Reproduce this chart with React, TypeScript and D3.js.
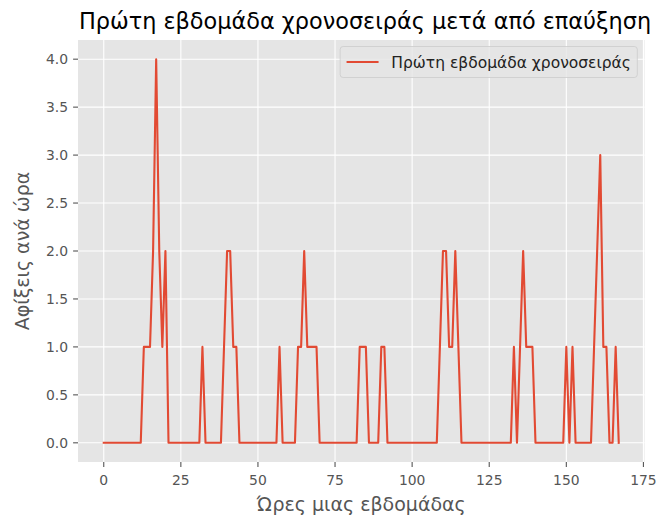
import React, { useEffect, useRef } from "react";
import * as d3 from "d3";

const hours: number[] = Array.from({ length: 168 }, (_, i) => i);
const arrivals: number[] = [
  // 0-11
  0, 0, 0, 0, 0, 0, 0, 0, 0, 0, 0, 0,
  // 12-21
  0, 1, 1, 1, 2, 4, 2, 1, 2, 0,
  // 22-31
  0, 0, 0, 0, 0, 0, 0, 0, 0, 0,
  // 32-43
  1, 0, 0, 0, 0, 0, 0, 1, 2, 2, 1, 1,
  // 44-56
  0, 0, 0, 0, 0, 0, 0, 0, 0, 0, 0, 0, 0,
  // 57-69
  1, 0, 0, 0, 0, 0, 1, 1, 2, 1, 1, 1, 1,
  // 70-82
  0, 0, 0, 0, 0, 0, 0, 0, 0, 0, 0, 0, 0,
  // 83-91
  1, 1, 1, 0, 0, 0, 0, 1, 1,
  // 92-108
  0, 0, 0, 0, 0, 0, 0, 0, 0, 0, 0, 0, 0, 0, 0, 0, 0,
  // 109-115
  1, 2, 2, 1, 1, 2, 1,
  // 116-132
  0, 0, 0, 0, 0, 0, 0, 0, 0, 0, 0, 0, 0, 0, 0, 0, 0,
  // 133-139
  1, 0, 1, 2, 1, 1, 1,
  // 140-149
  0, 0, 0, 0, 0, 0, 0, 0, 0, 0,
  // 150-158
  1, 0, 1, 0, 0, 0, 0, 0, 0,
  // 159-167
  1, 2, 3, 1, 1, 0, 0, 1, 0,
];
const xTicks: number[] = [0, 25, 50, 75, 100, 125, 150, 175];
const yTicks: number[] = [0, 0.5, 1, 1.5, 2, 2.5, 3, 3.5, 4];
const titleText = "Πρώτη εβδομάδα χρονοσειράς μετά από επαύξηση";
const xLabelText = "Ώρες μιας εβδομάδας";
const yLabelText = "Αφίξεις ανά ώρα";
const seriesName = "Πρώτη εβδομάδα χρονοσειράς";

export default function App() {
  const ref = useRef<SVGSVGElement | null>(null);

  useEffect(() => {
    const svg = d3.select(ref.current);
    svg.selectAll("*").remove();
    const font = "DejaVu Sans, sans-serif";
    const left = 78, right = 644.5, top = 40, bottom = 462;
    const x = d3.scaleLinear().domain([-8.35, 175.35]).range([left, right]);
    const y = d3.scaleLinear().domain([-0.2, 4.2]).range([bottom, top]);

    svg.append("rect").attr("x", left).attr("y", top)
      .attr("width", right - left).attr("height", bottom - top).attr("fill", "#E5E5E5");

    const g = svg.append("g");
    g.selectAll(".gx").data(xTicks).enter().append("line")
      .attr("x1", (d) => x(d)).attr("x2", (d) => x(d))
      .attr("y1", top).attr("y2", bottom)
      .attr("stroke", "#ffffff").attr("stroke-width", 1.1);
    g.selectAll(".gy").data(yTicks).enter().append("line")
      .attr("x1", left).attr("x2", right)
      .attr("y1", (d) => y(d)).attr("y2", (d) => y(d))
      .attr("stroke", "#ffffff").attr("stroke-width", 1.1);

    // ticks
    g.selectAll(".tx").data(xTicks).enter().append("line")
      .attr("x1", (d) => x(d)).attr("x2", (d) => x(d))
      .attr("y1", bottom).attr("y2", bottom + 4.9)
      .attr("stroke", "#555555").attr("stroke-width", 1.1);
    g.selectAll(".ty").data(yTicks).enter().append("line")
      .attr("x1", left - 4.9).attr("x2", left)
      .attr("y1", (d) => y(d)).attr("y2", (d) => y(d))
      .attr("stroke", "#555555").attr("stroke-width", 1.1);

    g.selectAll(".lx").data(xTicks).enter().append("text")
      .attr("x", (d) => x(d)).attr("y", 485)
      .attr("text-anchor", "middle").attr("font-family", font).attr("font-size", 13.9)
      .attr("fill", "#555555").text((d) => String(d));
    g.selectAll(".ly").data(yTicks).enter().append("text")
      .attr("x", 68).attr("y", (d) => y(d) + 5)
      .attr("text-anchor", "end").attr("font-family", font).attr("font-size", 13.9)
      .attr("fill", "#555555").text((d) => d.toFixed(1));

    // line
    const line = d3.line<number>().x((_, i) => x(hours[i])).y((d) => y(d));
    svg.append("path").datum(arrivals).attr("d", line)
      .attr("fill", "none").attr("stroke", "#E24A33").attr("stroke-width", 2.1)
      .attr("stroke-linejoin", "round").attr("stroke-linecap", "square");

    // title & labels
    svg.append("text").attr("x", 365).attr("y", 29)
      .attr("text-anchor", "middle").attr("font-family", font).attr("font-size", 22.4)
      .attr("fill", "#000000").text(titleText);
    svg.append("text").attr("x", (left + right) / 2).attr("y", 511)
      .attr("text-anchor", "middle").attr("font-family", font).attr("font-size", 19)
      .attr("fill", "#555555").text(xLabelText);
    svg.append("text").attr("transform", `translate(29,${(top + bottom) / 2}) rotate(-90)`)
      .attr("text-anchor", "middle").attr("font-family", font).attr("font-size", 19)
      .attr("fill", "#555555").text(yLabelText);

    // legend
    const fs = 16;
    const lg = svg.append("g");
    const box = lg.append("rect");
    const txt = lg.append("text").attr("font-family", font).attr("font-size", 15.5)
      .attr("fill", "#222222").text(seriesName);
    const tw = (txt.node() as SVGTextElement).getComputedTextLength();
    const pad = 0.4 * fs;
    const handle = 2.0 * fs;
    const htp = 0.8 * fs;
    const bw = pad + handle + htp + tw + pad;
    const bh = 31;
    const bx = right - 0.45 * fs - bw;
    const by = 46.5;
    box.attr("x", bx).attr("y", by).attr("width", bw).attr("height", bh)
      .attr("rx", 3).attr("fill", "#E5E5E5").attr("fill-opacity", 0.8)
      .attr("stroke", "#CCCCCC").attr("stroke-opacity", 0.8).attr("stroke-width", 1);
    const cy = by + bh / 2;
    lg.append("line").attr("x1", bx + pad).attr("x2", bx + pad + handle)
      .attr("y1", cy).attr("y2", cy).attr("stroke", "#E24A33").attr("stroke-width", 2.1);
    txt.attr("x", bx + pad + handle + htp).attr("y", cy + 5.5);
  }, []);

  return (
    <svg ref={ref} width={668} height={519}
      style={{ position: "absolute", left: 0, top: 0, background: "#ffffff" }} />
  );
}
